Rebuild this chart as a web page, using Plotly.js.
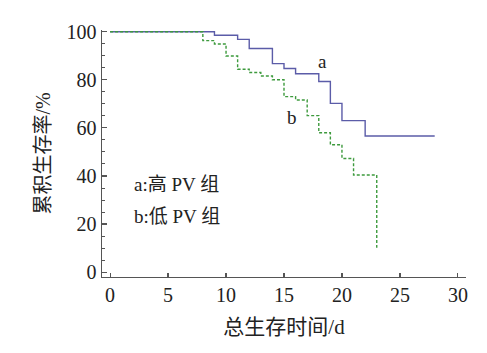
<!DOCTYPE html>
<html>
<head>
<meta charset="utf-8">
<script src="https://cdn.plot.ly/plotly-3.0.1.min.js"></script>
<style>html,body{margin:0;padding:0;background:#fff;}#chart{width:487px;height:353px;}</style>
</head>
<body>
<div id="chart"></div>
<script>
// Kaplan-Meier step data
const daysA = [0, 9, 11, 12, 14, 15, 16, 18, 19, 20, 22, 28];
const survA = [100, 98.5, 96.8, 93, 86.7, 84.7, 82.5, 79.3, 70.2, 63, 56.6, 56.6];
const daysB = [0, 8, 9, 10, 11, 12, 13, 14, 15, 16, 17, 18, 19, 20, 21, 23];
const survB = [100, 96.3, 94.9, 89.9, 84.4, 83, 81.6, 80, 73, 71.6, 65.1, 58, 53, 47.3, 40.4, 10.2];
const xTicks = [0, 5, 10, 15, 20, 25, 30];
const yTicks = [0, 20, 40, 60, 80, 100];
const labelA = 'a';
const labelB = 'b';
const legendA = 'a:高 PV 组';
const legendB = 'b:低 PV 组';
const xTitle = '总生存时间/d';
const yTitle = '累积生存率/%';

const serif = '"Liberation Serif", "Times New Roman", "DejaVu Serif", "Noto Sans CJK SC", serif';
const txt = '#222';

const traces = [
  {x: daysA, y: survA, mode: 'lines', line: {shape: 'hv', color: '#5b5ca8', width: 1.4}, hoverinfo: 'none'},
  {x: daysB, y: survB, mode: 'lines', line: {shape: 'hv', color: '#3d9a3d', width: 1.4, dash: '3px,2px'}, hoverinfo: 'none'}
];

const layout = {
  width: 487, height: 353,
  margin: {l: 102, r: 21, t: 30, b: 76},
  paper_bgcolor: '#fff', plot_bgcolor: '#fff',
  showlegend: false,
  font: {family: serif, color: txt, size: 19},
  xaxis: {
    range: [-0.7, 30.7], tickvals: xTicks, ticktext: xTicks.map(String),
    showgrid: false, zeroline: false, showline: true, linecolor: '#555', linewidth: 1.4,
    ticks: 'inside', ticklen: 4, tickcolor: '#555', tickwidth: 1.2,
    tickfont: {family: serif, size: 20, color: txt},
    title: {text: xTitle, font: {family: serif, size: 21, color: txt}, standoff: 14}
  },
  yaxis: {
    range: [-2, 100.7], tickvals: yTicks, ticktext: yTicks.map(String),
    showgrid: false, zeroline: false, showline: true, linecolor: '#555', linewidth: 1.4,
    ticks: 'inside', ticklen: 5, tickcolor: '#555', tickwidth: 1.2,
    minor: {dtick: 5, ticks: 'inside', ticklen: 3, tickcolor: '#555', tickwidth: 1, showgrid: false},
    tickfont: {family: serif, size: 20, color: txt},
    title: {text: yTitle, font: {family: serif, size: 20, color: txt}, standoff: 10}
  },
  annotations: [
    {x: 18.3, y: 87.6, xref: 'x', yref: 'y', text: labelA, showarrow: false, font: {family: serif, size: 19, color: txt}},
    {x: 15.7, y: 64.3, xref: 'x', yref: 'y', text: labelB, showarrow: false, font: {family: serif, size: 19, color: txt}},
    {x: 1.9, y: 36.5, xref: 'x', yref: 'y', xanchor: 'left', text: legendA, showarrow: false, font: {family: serif, size: 19, color: txt}},
    {x: 1.9, y: 23.2, xref: 'x', yref: 'y', xanchor: 'left', text: legendB, showarrow: false, font: {family: serif, size: 19, color: txt}}
  ]
};

Plotly.newPlot('chart', traces, layout, {displayModeBar: false, staticPlot: true});
</script>
</body>
</html>
